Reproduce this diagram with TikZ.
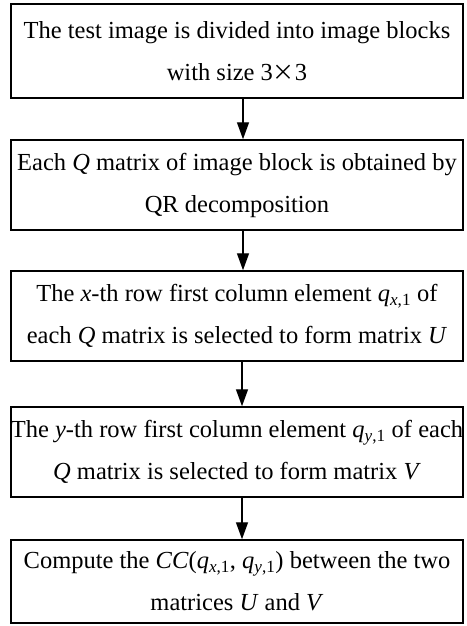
\documentclass[tikz,border=0pt]{standalone}
\usepackage{fontspec}
\setmainfont{Liberation Serif}
\newfontfamily\cjk{Noto Sans CJK SC}
\usetikzlibrary{arrows.meta}

% italic symbol with an italic/upright subscript, e.g. q_{x,1}
\newcommand{\qsub}[1]{\textit{q}\textsubscript{\textit{#1},1}}

\begin{document}
\begin{tikzpicture}[x=1pt,y=-1pt,
  stepbox/.style={draw, line width=1.5pt, rectangle, inner sep=0pt,
    minimum width=452pt, align=center,
    font=\fontsize{24.5}{42}\selectfont},
  flow/.style={line width=1.4pt, -{Triangle[width=12pt,length=17pt]}}]
\useasboundingbox (0,0) rectangle (466,626);

\node[stepbox, minimum height=94pt] (b1) at (237,51)
  {The test image is divided into image blocks\\with size 3{\cjk\fontsize{22}{42}\selectfont ×}3};
\node[stepbox, minimum height=90pt] (b2) at (237,185)
  {Each \textit{Q} matrix of image block is obtained by\\QR decomposition};
\node[stepbox, minimum height=90pt] (b3) at (237,316)
  {The \textit{x}-th row first column element \qsub{x} of\\each \textit{Q} matrix is selected to form matrix \textit{U}};
\node[stepbox, minimum height=90pt] (b4) at (237,452)
  {The \textit{y}-th row first column element \qsub{y} of each\\\textit{Q} matrix is selected to form matrix \textit{V}};
\node[stepbox, minimum height=83pt] (b5) at (237,581.5)
  {Compute the \textit{CC}(\qsub{x}, \qsub{y}) between the two\\matrices \textit{U} and \textit{V}};

\draw[flow] (b1.south -| 243,0) -- (b2.north -| 243,0);
\draw[flow] (b2.south -| 243,0) -- (b3.north -| 243,0);
\draw[flow] (b3.south -| 242,0) -- (b4.north -| 242,0);
\draw[flow] (b4.south -| 242,0) -- (b5.north -| 242,0);
\end{tikzpicture}
\end{document}
